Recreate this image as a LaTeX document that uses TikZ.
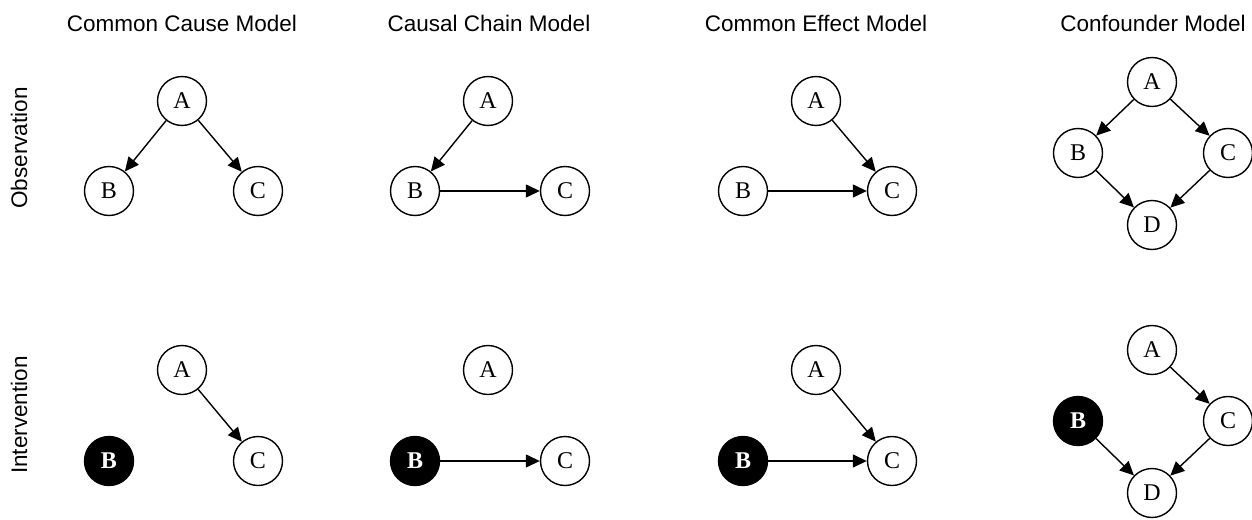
\documentclass[tikz,border=0pt]{standalone}
\usepackage{fontspec}
\setmainfont{Liberation Serif}
\newfontfamily\labelfont{Liberation Sans}
\usetikzlibrary{arrows.meta}
\begin{document}
\begin{tikzpicture}[x=1pt,y=-1pt,
  var/.style={circle,draw=black,line width=1.4pt,minimum size=49pt,inner sep=0pt,fill=white,font=\fontsize{24}{28}\selectfont},
  fixed/.style={var,fill=black,text=white,font=\fontsize{24}{28}\selectfont\bfseries},
  title/.style={font=\labelfont\fontsize{22.5}{27}\selectfont,inner sep=0pt},
  rowlab/.style={font=\labelfont\fontsize{22.5}{27}\selectfont,inner sep=0pt,rotate=90},
  edge/.style={line width=1.4pt,-{Triangle[length=14pt,width=13pt]}}]
\useasboundingbox (0,0) rectangle (1252,519);
% titles
\node[title] (t1) at (182,23) {Common Cause Model};
\node[title] (t2) at (489,23) {Causal Chain Model};
\node[title] (t3) at (816,23) {Common Effect Model};
\node[title] (t4) at (1153,23) {Confounder Model};
\node[rowlab] (obs) at (19,148) {Observation};
\node[rowlab] (int) at (19,415) {Intervention};
% ---------- Observation row ----------
% common cause
\node[var] (a1) at (182,101) {A};
\node[var] (b1) at (109,191) {B};
\node[var] (c1) at (258,191) {C};
\draw[edge] (a1) -- (b1);
\draw[edge] (a1) -- (c1);
% causal chain
\node[var] (a2) at (488,101) {A};
\node[var] (b2) at (415,191) {B};
\node[var] (c2) at (565,191) {C};
\draw[edge] (a2) -- (b2);
\draw[edge] (b2) -- (c2);
% common effect
\node[var] (a3) at (816,101) {A};
\node[var] (b3) at (743,191) {B};
\node[var] (c3) at (892,191) {C};
\draw[edge] (a3) -- (c3);
\draw[edge] (b3) -- (c3);
% confounder
\node[var] (a4) at (1152,82) {A};
\node[var] (b4) at (1078,153) {B};
\node[var] (c4) at (1228,153) {C};
\node[var] (d4) at (1152,225) {D};
\draw[edge] (a4) -- (b4);
\draw[edge] (a4) -- (c4);
\draw[edge] (b4) -- (d4);
\draw[edge] (c4) -- (d4);
% ---------- Intervention row ----------
\node[var] (a5) at (182,370) {A};
\node[fixed] (b5) at (109,461) {B};
\node[var] (c5) at (258,461) {C};
\draw[edge] (a5) -- (c5);
\node[var] (a6) at (488,370) {A};
\node[fixed] (b6) at (415,461) {B};
\node[var] (c6) at (565,461) {C};
\draw[edge] (b6) -- (c6);
\node[var] (a7) at (816,370) {A};
\node[fixed] (b7) at (743,461) {B};
\node[var] (c7) at (892,461) {C};
\draw[edge] (a7) -- (c7);
\draw[edge] (b7) -- (c7);
\node[var] (a8) at (1152,350) {A};
\node[fixed] (b8) at (1078,421) {B};
\node[var] (c8) at (1228,421) {C};
\node[var] (d8) at (1152,493) {D};
\draw[edge] (a8) -- (c8);
\draw[edge] (b8) -- (d8);
\draw[edge] (c8) -- (d8);
\end{tikzpicture}
\end{document}
